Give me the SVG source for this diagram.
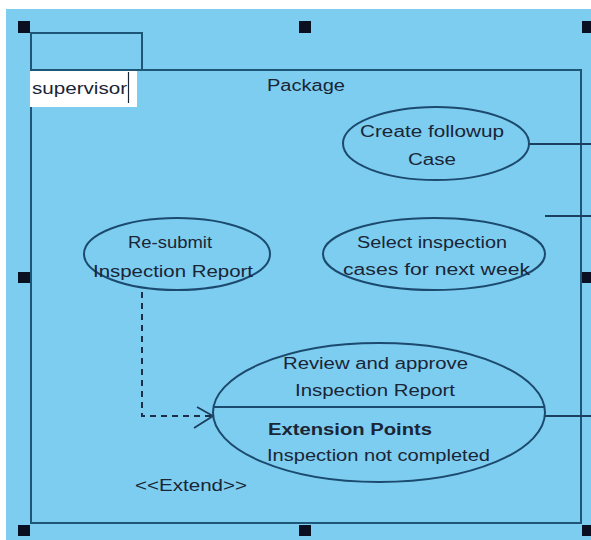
<svg xmlns="http://www.w3.org/2000/svg" width="591" height="540" viewBox="0 0 591 540">
  <style>
    .bg { fill: #7dcdf0; }
    .frame { fill: none; stroke: #1d5677; stroke-width: 2; }
    .uc { fill: #7dcdf0; stroke: #1b4a6e; stroke-width: 2; }
    .line { fill: none; stroke: #1b3f5e; stroke-width: 1.8; }
    .dash { fill: none; stroke: #1b3048; stroke-width: 2; stroke-dasharray: 6 5; }
    .handle { fill: #0b0f22; }
    text { font-family: "Liberation Sans", Arial, sans-serif; font-size: 16px; fill: #1a2536; }
    .bold { font-weight: bold; }
  </style>

  <!-- canvas -->
  <rect x="0" y="0" width="591" height="540" fill="#ffffff"/>
  <rect class="bg" x="6" y="9" width="585" height="531"/>

  <!-- package frame with tab -->
  <g id="package">
    <path class="frame" d="M31,523 L31,33 L142,33 L142,70 L581,70 L581,523 Z"/>
    <path class="frame" d="M31,70 L142,70"/>
    <text x="267" y="91" textLength="78" lengthAdjust="spacingAndGlyphs">Package</text>
    <!-- name being edited -->
    <rect x="30" y="71" width="107" height="36" fill="#ffffff"/>
    <text x="32" y="94" textLength="95" lengthAdjust="spacingAndGlyphs">supervisor</text>
    <line x1="128.5" y1="72" x2="128.5" y2="103" stroke="#1a2536" stroke-width="1.2"/>
  </g>

  <!-- connectors -->
  <g id="connectors">
    <line class="line" x1="529" y1="144" x2="591" y2="144"/>
    <line class="line" x1="545" y1="216" x2="591" y2="216"/>
    <line class="line" x1="545" y1="416" x2="591" y2="416"/>
    <path class="dash" d="M142,292 L142,416 L211,416"/>
    <path class="line" d="M197,407 L213,416 L194,428"/>
    <text x="135" y="491" textLength="112" lengthAdjust="spacingAndGlyphs">&lt;&lt;Extend&gt;&gt;</text>
  </g>

  <g id="uc-create-followup">
    <ellipse class="uc" cx="436" cy="143.5" rx="93" ry="36.5"/>
    <text x="360" y="137" textLength="144" lengthAdjust="spacingAndGlyphs">Create followup</text>
    <text x="408" y="165" textLength="48" lengthAdjust="spacingAndGlyphs">Case</text>
  </g>

  <g id="uc-select-cases">
    <ellipse class="uc" cx="434" cy="254" rx="111" ry="36"/>
    <text x="357" y="248" textLength="150" lengthAdjust="spacingAndGlyphs">Select inspection</text>
    <text x="343" y="275" textLength="187" lengthAdjust="spacingAndGlyphs">cases for next week</text>
  </g>

  <g id="uc-resubmit">
    <ellipse class="uc" cx="177" cy="254" rx="93" ry="36"/>
    <text x="128" y="248" textLength="84" lengthAdjust="spacingAndGlyphs">Re-submit</text>
    <text x="93" y="277" textLength="160" lengthAdjust="spacingAndGlyphs">Inspection Report</text>
  </g>

  <g id="uc-review">
    <ellipse class="uc" cx="379" cy="412.5" rx="166" ry="69.5"/>
    <line x1="214" y1="407" x2="544" y2="407" stroke="#1b4a6e" stroke-width="1.8"/>
    <text x="283" y="369" textLength="185" lengthAdjust="spacingAndGlyphs">Review and approve</text>
    <text x="295" y="396" textLength="160" lengthAdjust="spacingAndGlyphs">Inspection Report</text>
    <text class="bold" x="268" y="435" textLength="164" lengthAdjust="spacingAndGlyphs">Extension Points</text>
    <text x="267" y="461" textLength="223" lengthAdjust="spacingAndGlyphs">Inspection not completed</text>
  </g>

  <!-- selection handles -->
  <g id="handles">
    <rect class="handle" x="18" y="21" width="12" height="12"/>
    <rect class="handle" x="299" y="21" width="12" height="12"/>
    <rect class="handle" x="582" y="21" width="12" height="12"/>
    <rect class="handle" x="18" y="272" width="12" height="11"/>
    <rect class="handle" x="582" y="272" width="12" height="11"/>
    <rect class="handle" x="18" y="525" width="12" height="11"/>
    <rect class="handle" x="299" y="525" width="12" height="11"/>
    <rect class="handle" x="582" y="525" width="12" height="11"/>
  </g>
</svg>
